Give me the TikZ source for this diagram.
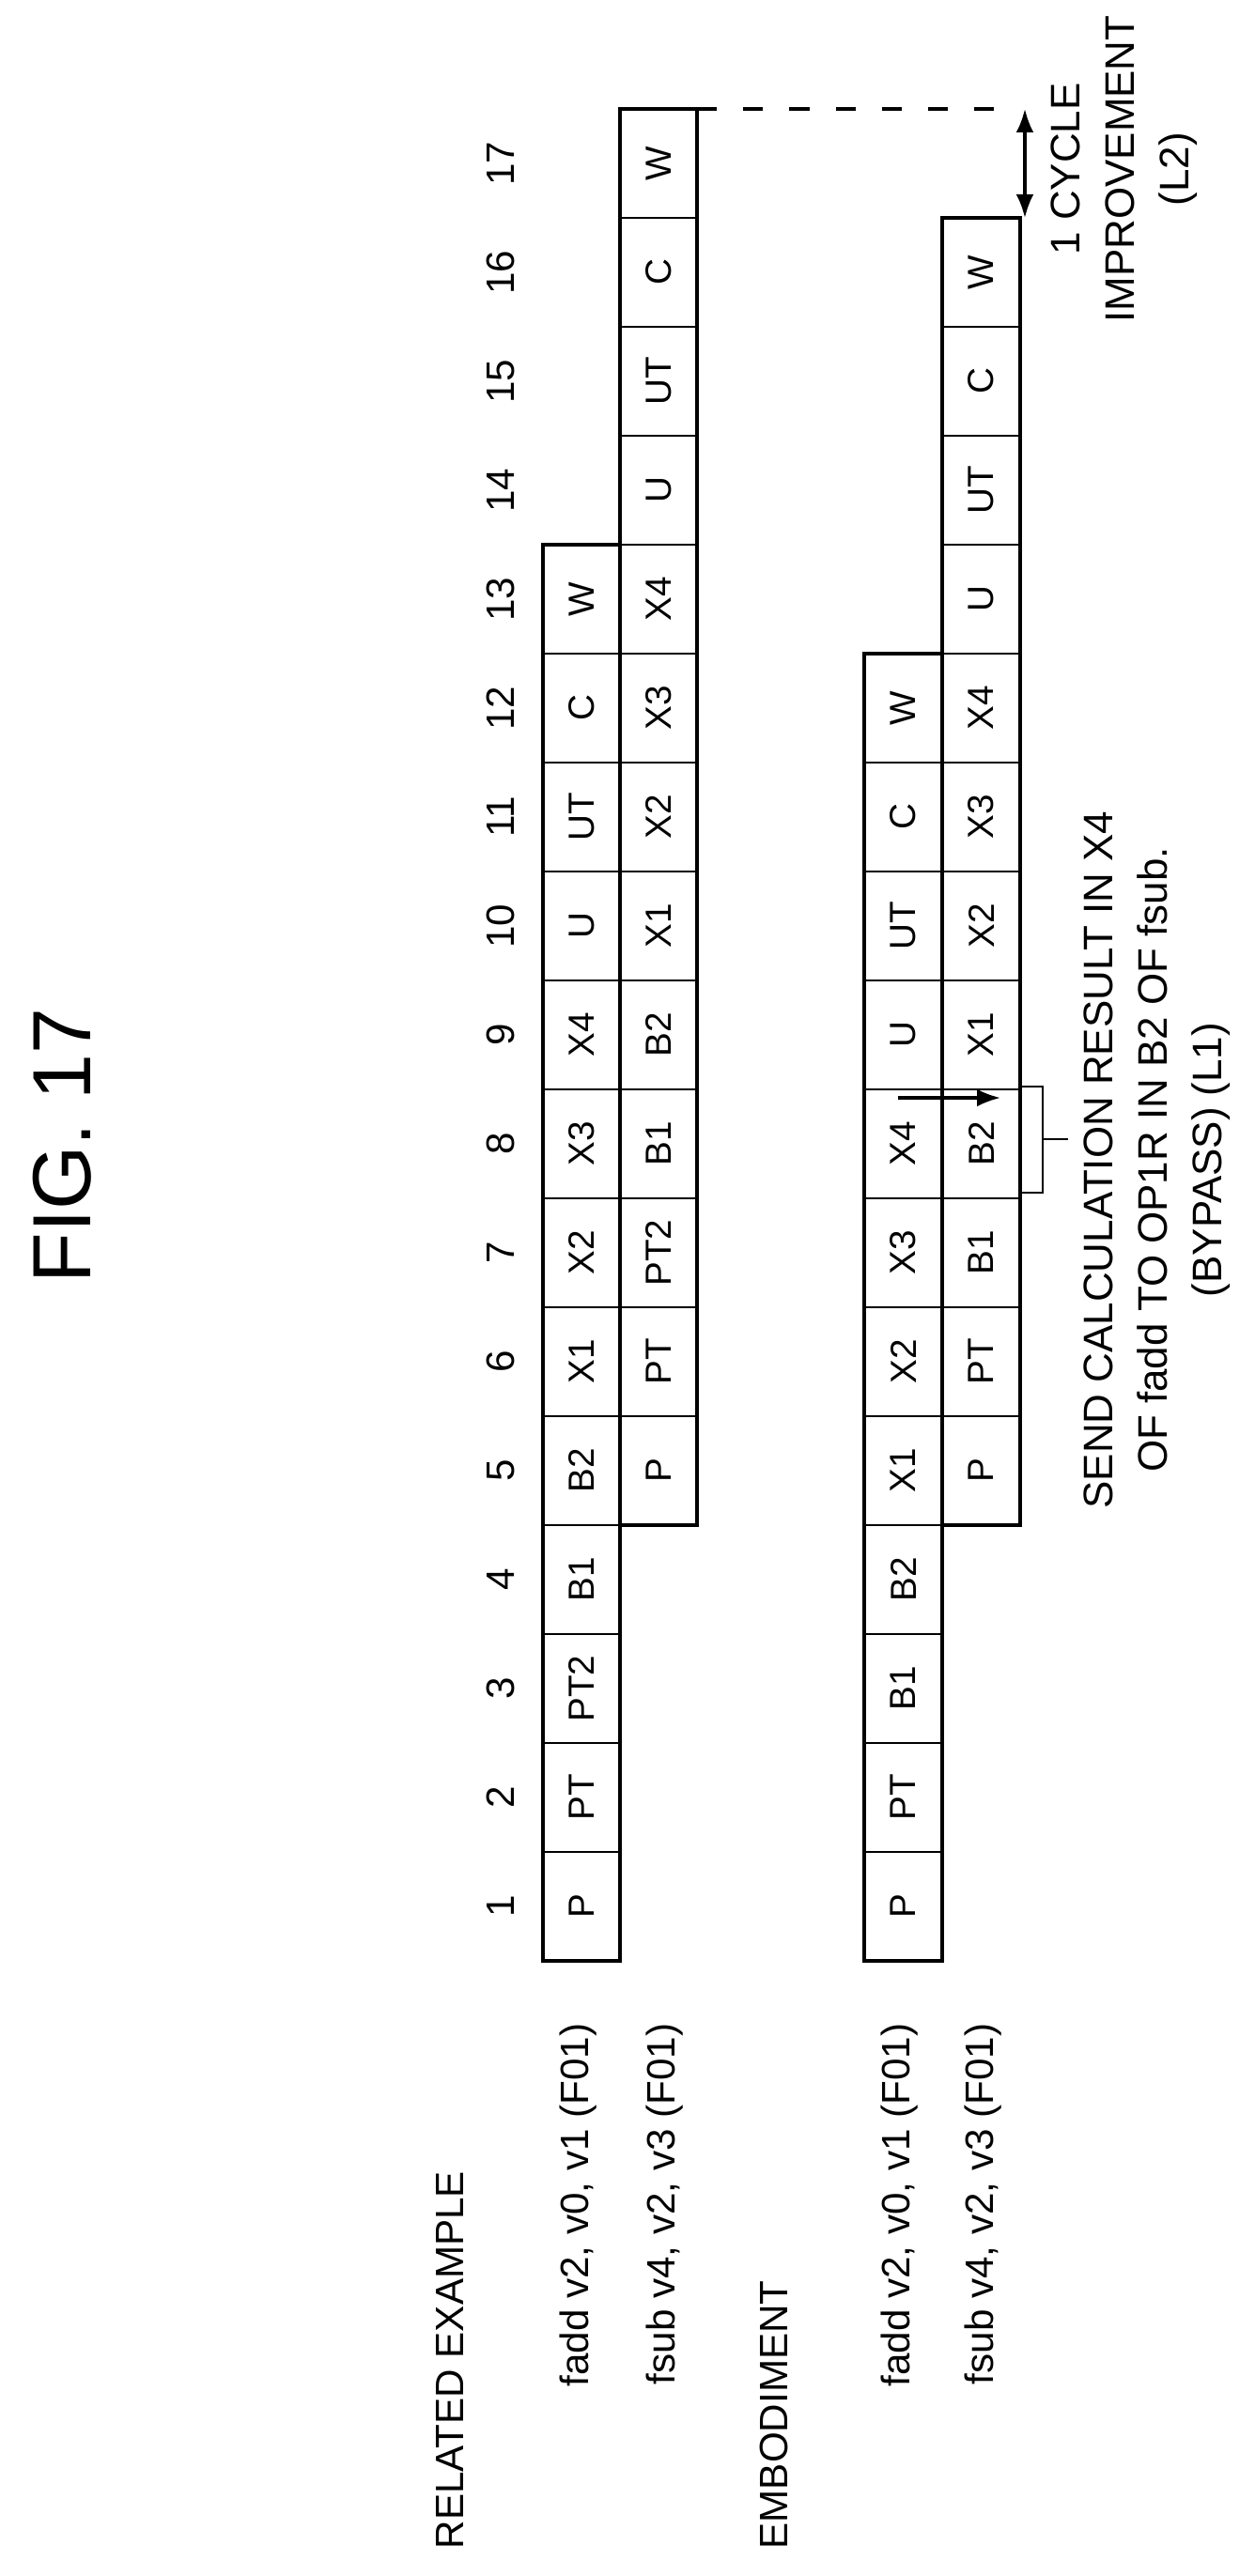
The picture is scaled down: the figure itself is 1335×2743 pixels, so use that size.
\documentclass[tikz,border=0pt]{standalone}
\usepackage{fontspec}
\setmainfont{Liberation Sans}
\usepackage{tikz}
\usetikzlibrary{positioning, arrows.meta,calc}
\tikzset{
  cell/.style={draw, line width=0.4pt, rotate=90, minimum width=11.6mm, minimum height=8.2mm, inner sep=0pt, font=\fontsize{11}{13}\selectfont},
  box/.style={line width=1.3pt},
  lbl/.style={rotate=90, font=\fontsize{12}{14}\selectfont, inner sep=0pt}
}

\begin{document}
\begin{tikzpicture}[x=0.1mm, y=-0.1mm, >=stealth]
		\useasboundingbox (0,0) rectangle (1335,2743);
		
		% Title
		\node[rotate=90, font=\fontsize{25}{28}\selectfont] (title) at (66,1220) {FIG. 17};
		
		% Cycle numbers
		\foreach \n in {1,...,17}
		\node[lbl] (cyc\n) at (533,{2030-(\n-1)*116}) {\n};
		
		% Related example
		\foreach \lab [count=\i from 1] in {P,PT,PT2,B1,B2,X1,X2,X3,X4,U,UT,C,W}
		\node[cell] (rf\i) at (619,{2030-(\i-1)*116}) {\lab};
		\foreach \lab [count=\i from 5] in {P,PT,PT2,B1,B2,X1,X2,X3,X4,U,UT,C,W}
		\node[cell] (rs\i) at (701,{2030-(\i-1)*116}) {\lab};
		\draw[box] (578,2088) rectangle (660,580);
		\draw[box] (660,1624) rectangle (742,116);
		
		% Embodiment
		\foreach \lab [count=\i from 1] in {P,PT,B1,B2,X1,X2,X3,X4,U,UT,C,W}
		\node[cell] (ef\i) at (961.5,{2030-(\i-1)*116}) {\lab};
		\foreach \lab [count=\i from 5] in {P,PT,B1,B2,X1,X2,X3,X4,U,UT,C,W}
		\node[cell] (es\i) at (1044.5,{2030-(\i-1)*116}) {\lab};
		\draw[box] (920,2088) rectangle (1003,696);
		\draw[box] (1003,1624) rectangle (1086,232);
		
		% Row labels
		\node[lbl, anchor=west] (relex) at (479,2715) {RELATED EXAMPLE};
		\node[lbl, anchor=east] (rfadd) at (616,2154) {fadd v2, v0, v1 (F01)};
		\node[lbl, anchor=east] (rfsub) at (708,2154) {fsub v4, v2, v3 (F01)};
		\node[lbl, anchor=west] (embo) at (824,2715) {EMBODIMENT};
		\node[lbl, anchor=east] (efadd) at (958,2154) {fadd v2, v0, v1 (F01)};
		\node[lbl, anchor=east] (efsub) at (1047,2154) {fsub v4, v2, v3 (F01)};
		
		% Bypass (L1)
		\coordinate (bpa) at (956,1169);
		\coordinate (bpb) at (1065,1169);
		\draw[-{Latex[length=2.5mm]}, line width=0.9pt] (bpa) -- (bpb);
		\draw[line width=0.8pt] (1087,1157) -- (1110,1157) -- (1110,1270) -- (1087,1270);
		\draw[line width=0.8pt] (1110,1213) -- (1137,1213);
		\node[lbl, align=center, font=\fontsize{12.5}{16.5}\selectfont] (bypass) at (1232,1235)
		{SEND CALCULATION RESULT IN X4\\OF fadd TO OP1R IN B2 OF fsub.\\(BYPASS) (L1)};
		
		% Improvement (L2)
		\draw[dashed, line width=0.9pt, dash pattern=on 6pt off 8pt] (742,116) -- (1062,116);
		\draw[{Latex[length=2.5mm]}-{Latex[length=2.5mm]}, line width=0.9pt] (1091,116) -- (1091,232);
		\node[lbl, align=center, font=\fontsize{12.5}{16.5}\selectfont] (impr) at (1197,180)
		{1 CYCLE\\IMPROVEMENT\\(L2)};
		
	\end{tikzpicture}
\end{document}
